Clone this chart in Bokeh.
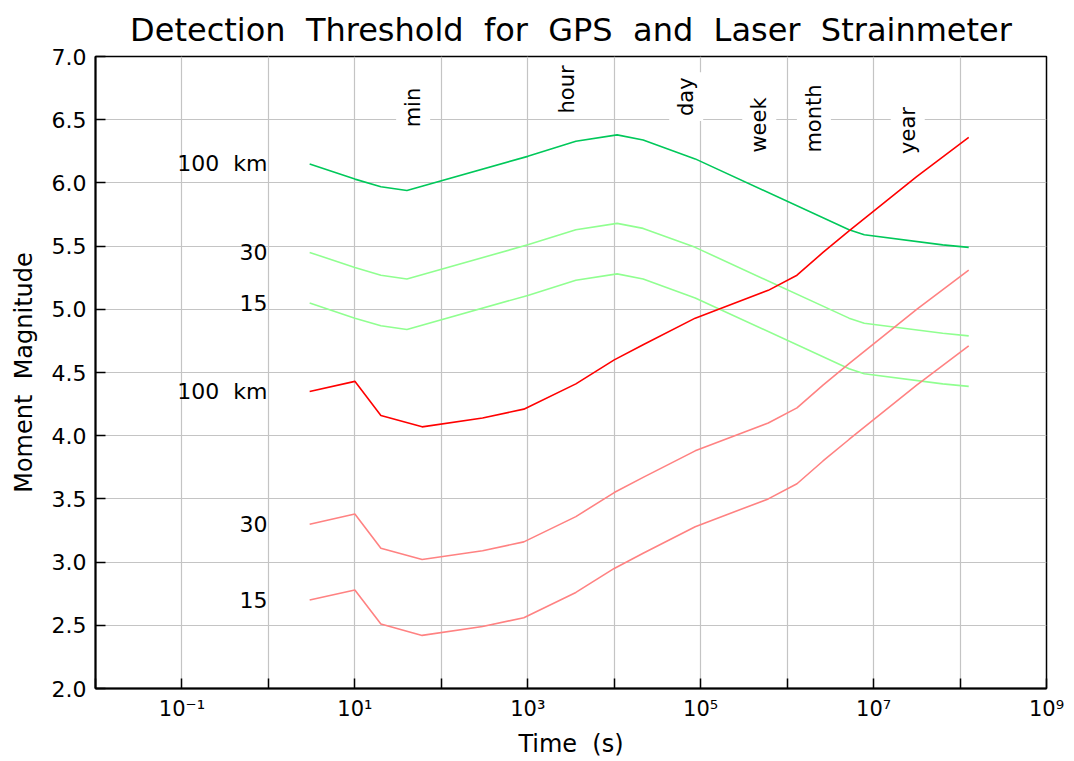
import math

from bokeh.core.properties import value
from bokeh.embed import file_html
from bokeh.models import ColumnDataSource, CustomJSTickFormatter, FixedTicker
from bokeh.plotting import figure
from bokeh.resources import INLINE

# GPS detection threshold (moment magnitude) against observation window (s)
gps_time = [3, 10, 20, 40, 1e3, 3.6e3, 1.08e4, 2.16e4, 8.64e4, 5.2e6, 7.8e6, 6.3e7, 1.26e8]
gps_100km = [6.15, 6.03, 5.97, 5.94, 6.21, 6.33, 6.38, 6.34, 6.19, 5.63, 5.59, 5.51, 5.49]
gps_30km = [5.45, 5.33, 5.27, 5.24, 5.51, 5.63, 5.68, 5.64, 5.49, 4.93, 4.89, 4.81, 4.79]
gps_15km = [5.05, 4.93, 4.87, 4.84, 5.11, 5.23, 5.28, 5.24, 5.09, 4.53, 4.49, 4.41, 4.39]

# Laser strainmeter detection threshold
strain_time = [3, 10, 20, 60, 300, 900, 3.6e3, 1e4, 2.16e4, 8.64e4, 6.048e5, 1.3e6,
               2.6e6, 5.2e6, 3.15e7, 1.26e8]
strain_100km = [4.35, 4.43, 4.16, 4.07, 4.14, 4.21, 4.41, 4.60, 4.72, 4.93, 5.15, 5.27,
                5.45, 5.62, 6.05, 6.36]
strain_30km = [3.30, 3.38, 3.11, 3.02, 3.09, 3.16, 3.36, 3.55, 3.67, 3.88, 4.10, 4.22,
               4.40, 4.57, 5.00, 5.31]
strain_15km = [2.70, 2.78, 2.51, 2.42, 2.49, 2.56, 2.76, 2.95, 3.07, 3.28, 3.50, 3.62,
               3.80, 3.97, 4.40, 4.71]

distance_labels = ["100\u00a0\u00a0km", "30", "15"]

# Reference periods marked along the top of the plot
period_names = ["min", "hour", "day", "week", "month", "year"]
period_seconds = [60, 3600, 86400, 604800, 2.592e6, 3.156e7]

decade_exponents = list(range(-2, 10))
magnitude_ticks = [2.0, 2.5, 3.0, 3.5, 4.0, 4.5, 5.0, 5.5, 6.0, 6.5, 7.0]

title_text = "Detection Threshold for GPS and Laser Strainmeter"

FONT = "DejaVu Sans"
SP = "\u00a0\u00a0"

p = figure(
    width=1074, height=761,
    x_axis_type="log", x_range=(1e-2, 1e9), y_range=(2.0, 7.0),
    output_backend="svg", toolbar_location=None,
    min_border_left=95, min_border_right=28, min_border_top=56, min_border_bottom=73,
    background_fill_color="white", border_fill_color="white",
)

p.title.text = SP.join(title_text.split(" "))
p.title.align = "center"
p.title.text_font = FONT
p.title.text_font_size = "32px"
p.title.text_font_style = "normal"
p.title.text_color = "black"
p.title.standoff = 15

p.outline_line_color = "black"
p.outline_line_width = 1.5
p.outline_line_alpha = 1.0

# x axis: a tick every decade, labels on odd powers only
decades = [10.0 ** k for k in decade_exponents]
p.xaxis.ticker = FixedTicker(ticks=decades, minor_ticks=[])
p.xaxis.formatter = CustomJSTickFormatter(code="""
    const e = Math.round(Math.log10(tick));
    if (Math.abs(e) % 2 == 0) return "";
    const sup = {"-": "\u207b", "0": "\u2070", "1": "\u00b9", "2": "\u00b2", "3": "\u00b3",
                 "4": "\u2074", "5": "\u2075", "6": "\u2076", "7": "\u2077", "8": "\u2078",
                 "9": "\u2079"};
    return "10" + String(e).split("").map(c => sup[c]).join("");
""")
p.yaxis.ticker = FixedTicker(ticks=magnitude_ticks, minor_ticks=[])
p.yaxis.formatter = CustomJSTickFormatter(code="return tick.toFixed(1);")

for ax in (p.xaxis, p.yaxis):
    ax.axis_line_color = "black"
    ax.axis_line_width = 2
    ax.major_tick_in = 10
    ax.major_tick_out = 0
    ax.major_tick_line_color = "black"
    ax.major_tick_line_width = 1.5
    ax.minor_tick_line_color = None
    ax.major_label_text_font = FONT
    ax.major_label_text_color = "black"
    ax.axis_label_text_font = FONT
    ax.axis_label_text_font_style = "normal"
    ax.axis_label_text_font_size = "24px"
    ax.axis_label_text_color = "black"

p.xaxis.major_label_text_font_size = "21px"
p.yaxis.major_label_text_font_size = "22px"
p.xaxis.major_label_standoff = 8
p.yaxis.major_label_standoff = 9
p.xaxis.axis_label = "Time" + SP + "(s)"
p.yaxis.axis_label = "Moment" + SP + "Magnitude"
p.xaxis.axis_label_standoff = 6
p.yaxis.axis_label_standoff = 11

p.xgrid.ticker = FixedTicker(ticks=decades, minor_ticks=[])
p.ygrid.ticker = FixedTicker(ticks=magnitude_ticks, minor_ticks=[])
for g in (p.xgrid, p.ygrid):
    g.grid_line_color = "#c4c4c4"
    g.grid_line_width = 1.2

# threshold curves
gps_colors = ["#00c85a", "#90ff90", "#90ff90"]
strain_colors = ["#ff0000", "#ff8282", "#ff8282"]
for ys, c in zip([gps_100km, gps_30km, gps_15km], gps_colors):
    p.line(gps_time, ys, line_color=c, line_width=1.6)
for ys, c in zip([strain_100km, strain_30km, strain_15km], strain_colors):
    p.line(strain_time, ys, line_color=c, line_width=1.6)

# distance labels at the start of each curve
first_vals = [gps_100km[0], gps_30km[0], gps_15km[0],
              strain_100km[0], strain_30km[0], strain_15km[0]]
dist_src = ColumnDataSource(dict(
    x=[1.0] * 6, y=first_vals, text=distance_labels * 2,
))
p.text(x="x", y="y", text="text", source=dist_src, text_align="right",
       text_baseline="middle", text_font=value(FONT), text_font_size="22px",
       text_color="black", x_offset=-1)

# period names, rotated, on a white box over the grid
period_label_y = [6.40, 6.51, 6.49, 6.20, 6.20, 6.19]
per_src = ColumnDataSource(dict(x=period_seconds, y=period_label_y, text=period_names))
p.text(x="x", y="y", text="text", source=per_src, angle=math.pi / 2,
       text_align="left", text_baseline="alphabetic", text_font=value(FONT),
       text_font_size="21px", text_color="black", x_offset=-9,
       background_fill_color="white", padding=5)

open("out.html", "w").write(file_html(p, INLINE))
